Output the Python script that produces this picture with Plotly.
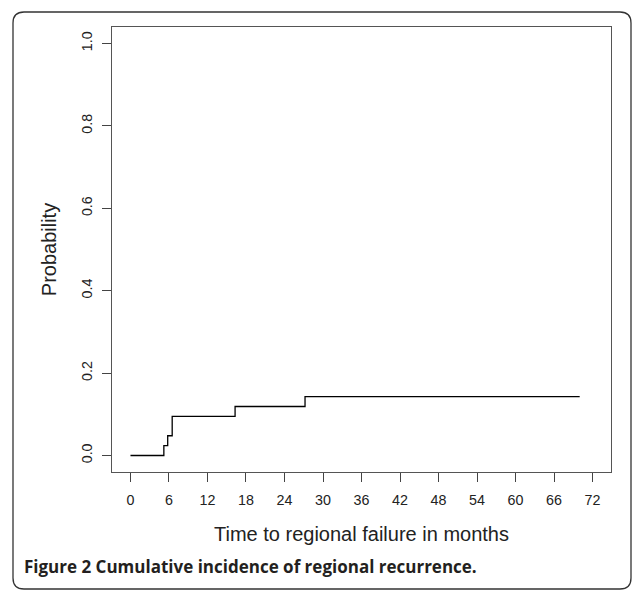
import plotly.graph_objects as go

# Data
times = [0, 5.2, 5.8, 6.5, 16.3, 27.2, 70.0]
probability = [0, 0.024, 0.048, 0.095, 0.119, 0.143, 0.143]
x_ticks = [0, 6, 12, 18, 24, 30, 36, 42, 48, 54, 60, 66, 72]
y_ticks = [0.0, 0.2, 0.4, 0.6, 0.8, 1.0]
y_tick_labels = ["0.0", "0.2", "0.4", "0.6", "0.8", "1.0"]
x_title = "Time to regional failure in months"
y_title = "Probability"
caption = "Figure 2 Cumulative incidence of regional recurrence."

W, H = 632, 591
L, R, T, B = 112, 611, 27, 472


def px(x):
    return (x - L) / (R - L)


def py(y):
    return (B - y) / (B - T)


fig = go.Figure()
fig.add_trace(go.Scatter(
    x=times, y=probability, mode="lines",
    line=dict(color="black", width=1.3, shape="hv"),
    showlegend=False, hoverinfo="skip",
))

axis_font = dict(family="Liberation Sans, Arial, sans-serif", size=14.3, color="#222")
title_font = dict(family="Liberation Sans, Arial, sans-serif", size=20, color="#222")

fig.update_xaxes(
    range=[-2.88, 74.88], tickmode="array", tickvals=x_ticks,
    ticks="outside", ticklen=9, tickwidth=1.2, tickcolor="#444",
    showline=True, linecolor="#555", linewidth=1.4, mirror=True,
    showgrid=False, zeroline=False, tickfont=axis_font,
    ticklabelstandoff=6,
    title=dict(text=x_title, font=title_font, standoff=19),
)
fig.update_yaxes(
    range=[-0.04, 1.04], tickmode="array", tickvals=y_ticks, ticktext=y_tick_labels,
    ticks="outside", ticklen=8.7, tickwidth=1.2, tickcolor="#444",
    showline=True, linecolor="#555", linewidth=1.4, mirror=True,
    showgrid=False, zeroline=False, tickfont=axis_font, tickangle=-90,
    ticklabelstandoff=4,
    title=dict(text=y_title, font=title_font, standoff=17),
)

# rounded outer frame
x0, x1, y0, y1, r = 13, 631, 12, 589, 11
path = (
    f"M {px(x0 + r)},{py(y0)} L {px(x1 - r)},{py(y0)} "
    f"Q {px(x1)},{py(y0)} {px(x1)},{py(y0 + r)} "
    f"L {px(x1)},{py(y1 - r)} Q {px(x1)},{py(y1)} {px(x1 - r)},{py(y1)} "
    f"L {px(x0 + r)},{py(y1)} Q {px(x0)},{py(y1)} {px(x0)},{py(y1 - r)} "
    f"L {px(x0)},{py(y0 + r)} Q {px(x0)},{py(y0)} {px(x0 + r)},{py(y0)} Z"
)
fig.add_shape(type="path", path=path, xref="paper", yref="paper",
              line=dict(color="#333", width=1.3), layer="below")

fig.add_annotation(
    text=f"<b>{caption}</b>", xref="paper", yref="paper",
    x=px(22), y=py(566), xanchor="left", yanchor="middle", showarrow=False,
    font=dict(family="Open Sans, sans-serif", size=17, color="#231f20"),
)

fig.update_layout(
    width=W, height=H,
    margin=dict(l=L, r=W - R, t=T, b=H - B, autoexpand=False),
    paper_bgcolor="white", plot_bgcolor="white",
)

fig.write_html("out.html", config={"displayModeBar": False},
               post_script="document.body.style.margin='0';")
